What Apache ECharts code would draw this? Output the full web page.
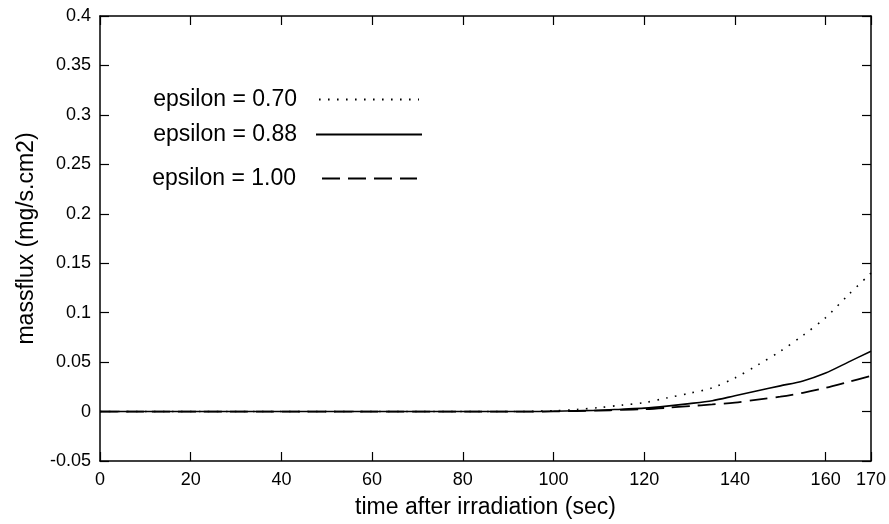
<!DOCTYPE html>
<html>
<head>
<meta charset="utf-8">
<script src="https://cdn.jsdelivr.net/npm/echarts@6/dist/echarts.min.js"></script>
<style>
html,body{margin:0;padding:0;background:#fff;}
#c{width:889px;height:524px;}
</style>
</head>
<body>
<div id="c"></div>
<script>
// ---- data ----
const time = [0, 90, 95, 100, 105, 110, 115, 120, 125, 130, 135, 140, 145, 150, 155, 160, 165, 170];
const eps070 = [0, 0, 0.0002, 0.0008, 0.002, 0.004, 0.0065, 0.009, 0.0138, 0.0185, 0.024, 0.034, 0.047, 0.061, 0.077, 0.095, 0.118, 0.140];
const eps088 = [0, 0, 0, 0.0003, 0.0008, 0.0013, 0.0024, 0.0035, 0.0055, 0.008, 0.011, 0.016, 0.021, 0.026, 0.031, 0.039, 0.050, 0.061];
const eps100 = [0, 0, 0, 0.0001, 0.0005, 0.001, 0.0017, 0.0024, 0.0038, 0.0055, 0.0072, 0.0091, 0.012, 0.015, 0.019, 0.024, 0.030, 0.036];
const seriesNames = ['epsilon = 0.70', 'epsilon = 0.88', 'epsilon = 1.00'];
const xTicks = [0, 20, 40, 60, 80, 100, 120, 140, 160, 170];
const yTicks = [-0.05, 0, 0.05, 0.1, 0.15, 0.2, 0.25, 0.3, 0.35, 0.4];
const xTitle = 'time after irradiation (sec)';
const yTitle = 'massflux (mg/s.cm2)';

const pairs = arr => time.map((t, i) => [t, arr[i]]);
const FONT = '"Liberation Sans", Arial, Helvetica, sans-serif';
const INK = '#000';

const chart = echarts.init(document.getElementById('c'), null, {renderer: 'canvas'});
const axisLine = {show: true, onZero: false, lineStyle: {color: INK, width: 1.5}};
const axisTick = {show: true, inside: true, length: 9, lineStyle: {color: INK, width: 1.2}};

function legendFor(name, right, top, width, gap) {
  return {
    data: [name], align: 'right', right: right, top: top, padding: 0,
    itemWidth: width, itemHeight: 14,
    itemStyle: {opacity: 0, borderWidth: 0},
    lineStyle: {opacity: 1},
    textStyle: {fontFamily: FONT, fontSize: 23, color: INK, padding: [0, gap, 0, 0]}
  };
}

const option = {
  animation: false,
  backgroundColor: '#fff',
  grid: {left: 100, right: 18, top: 16, bottom: 61, containLabel: false},
  xAxis: [
    {
      type: 'value', min: 0, max: 170, position: 'bottom',
      name: xTitle, nameLocation: 'middle', nameGap: 35,
      nameTextStyle: {fontFamily: FONT, fontSize: 23, color: INK},
      axisLine: axisLine,
      axisTick: Object.assign({customValues: xTicks}, axisTick),
      axisLabel: {customValues: xTicks, fontFamily: FONT, fontSize: 18, color: INK, margin: 10},
      splitLine: {show: false}
    },
    {
      type: 'value', min: 0, max: 170, position: 'top',
      axisLine: axisLine,
      axisTick: Object.assign({customValues: xTicks}, axisTick),
      axisLabel: {show: false},
      splitLine: {show: false}
    }
  ],
  yAxis: [
    {
      type: 'value', min: -0.05, max: 0.4, position: 'left',
      name: yTitle, nameLocation: 'middle', nameGap: 62, nameRotate: 90,
      nameTextStyle: {fontFamily: FONT, fontSize: 23, color: INK},
      axisLine: axisLine,
      axisTick: Object.assign({customValues: yTicks}, axisTick),
      axisLabel: {customValues: yTicks, fontFamily: FONT, fontSize: 18, color: INK, margin: 9,
        formatter: v => String(parseFloat(v.toFixed(2)))},
      splitLine: {show: false}
    },
    {
      type: 'value', min: -0.05, max: 0.4, position: 'right',
      axisLine: axisLine,
      axisTick: Object.assign({customValues: yTicks}, axisTick),
      axisLabel: {show: false},
      splitLine: {show: false}
    }
  ],
  legend: [
    legendFor(seriesNames[0], 469, 88, 100, 17),
    legendFor(seriesNames[1], 466, 123, 106, 14),
    legendFor(seriesNames[2], 471, 167, 95, 21)
  ],
  series: [
    {
      name: seriesNames[0], type: 'line', data: pairs(eps070), smooth: 0.3,
      showSymbol: false, symbol: 'none', color: INK,
      lineStyle: {color: INK, width: 1.6, type: [1.6, 7.4], cap: 'butt'}
    },
    {
      name: seriesNames[2], type: 'line', data: pairs(eps100), smooth: 0.3,
      showSymbol: false, symbol: 'none', color: INK,
      lineStyle: {color: INK, width: 1.8, type: [18, 8]}
    },
    {
      name: seriesNames[1], type: 'line', data: pairs(eps088), smooth: 0.3,
      showSymbol: false, symbol: 'none', color: INK,
      lineStyle: {color: INK, width: 1.6, type: 'solid'}
    }
  ]
};
chart.setOption(option);
</script>
</body>
</html>
